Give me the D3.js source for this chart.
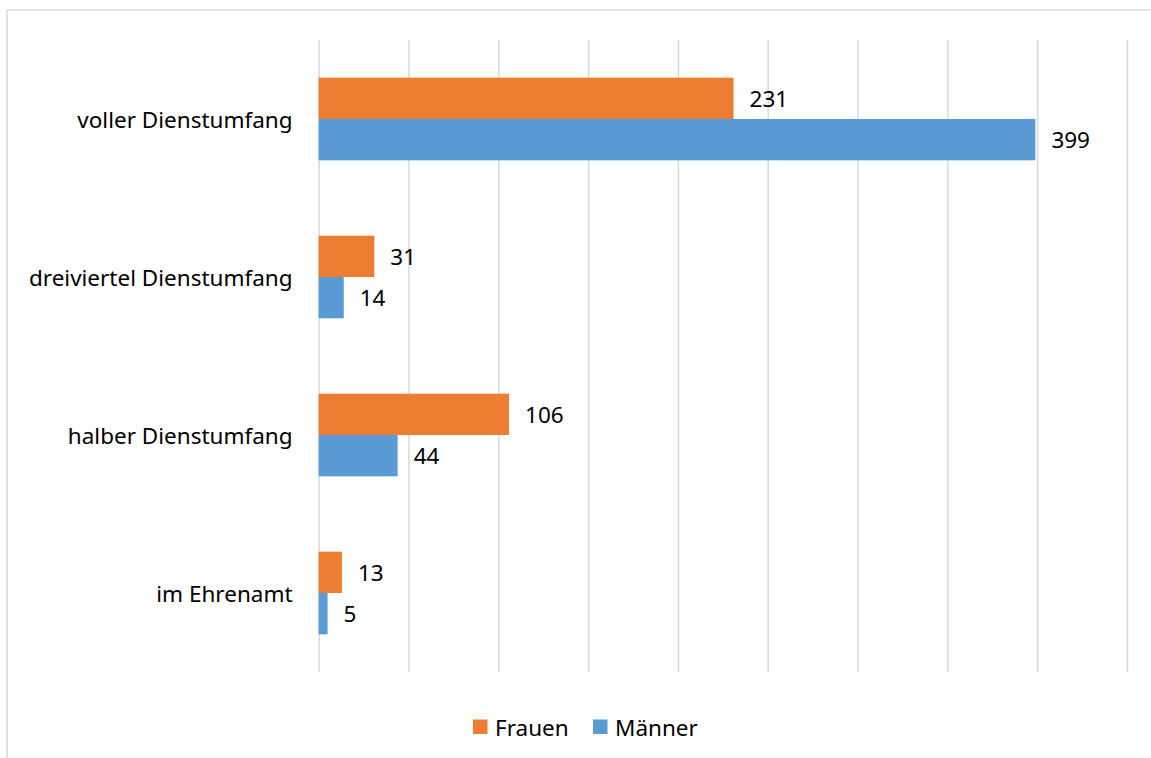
<!DOCTYPE html>
<html>
<head>
<meta charset="utf-8">
<script src="https://cdn.jsdelivr.net/npm/d3@7"></script>
<style>
  body { margin: 0; background: #fff; }
  svg { display: block; font-family: "Noto Sans", sans-serif; }
</style>
</head>
<body>
<svg id="chart" width="1151" height="758"></svg>
<script>
const categories = ['voller Dienstumfang', 'dreiviertel Dienstumfang', 'halber Dienstumfang', 'im Ehrenamt'];
const seriesNames = ['Frauen', 'Männer'];
const frauen = [231, 31, 106, 13];
const maenner = [399, 14, 44, 5];
const xTicks = [0, 50, 100, 150, 200, 250, 300, 350, 400, 450];

const colors = { 'Frauen': '#ED7D31', 'Männer': '#5B9BD5' };
const fontSize = 22.5;

const svg = d3.select('#chart');
const margin = { left: 318.6, right: 1127, top: 40, bottom: 672 };

// chart frame (right/bottom edges run off the picture)
svg.append('rect')
    .attr('x', 7).attr('y', 10)
    .attr('width', 1200).attr('height', 800)
    .attr('fill', '#fff')
    .attr('stroke', '#d9d9d9')
    .attr('stroke-width', 1.5);

const x = d3.scaleLinear()
    .domain([0, 450])
    .range([margin.left, margin.right]);

const y = d3.scaleBand()
    .domain(categories)
    .range([margin.top, margin.bottom])
    .paddingInner(0.477)
    .paddingOuter(0.2385);

const ySub = d3.scaleBand()
    .domain(seriesNames)
    .range([0, y.bandwidth()]);

// gridlines
const grid = svg.append('g')
    .attr('transform', `translate(0,${margin.bottom})`)
    .call(d3.axisBottom(x).tickValues(xTicks).tickSize(-(margin.bottom - margin.top)).tickFormat(''));
grid.select('.domain').remove();
grid.selectAll('.tick line')
    .attr('stroke', '#d9d9d9')
    .attr('stroke-width', 1.5);

// category labels
svg.append('g')
    .selectAll('text')
    .data(categories)
    .join('text')
        .attr('x', margin.left - 26)
        .attr('y', d => y(d) + y.bandwidth() / 2)
        .attr('text-anchor', 'end')
        .attr('dominant-baseline', 'central')
        .attr('font-size', fontSize)
        .attr('fill', '#000')
        .text(d => d);

const rows = categories.map((c, i) => ({
    category: c,
    values: [
        { series: 'Frauen', value: frauen[i] },
        { series: 'Männer', value: maenner[i] }
    ]
}));

const group = svg.append('g')
    .selectAll('g')
    .data(rows)
    .join('g')
        .attr('transform', d => `translate(0,${y(d.category)})`);

group.selectAll('rect')
    .data(d => d.values)
    .join('rect')
        .attr('x', x(0))
        .attr('y', d => ySub(d.series))
        .attr('width', d => x(d.value) - x(0))
        .attr('height', ySub.bandwidth())
        .attr('fill', d => colors[d.series]);

group.selectAll('text')
    .data(d => d.values)
    .join('text')
        .attr('x', d => x(d.value) + 16)
        .attr('y', d => ySub(d.series) + ySub.bandwidth() / 2)
        .attr('dominant-baseline', 'central')
        .attr('font-size', fontSize)
        .attr('fill', '#000')
        .text(d => d.value);

// legend
const legendPos = [473, 593];
const legend = svg.append('g')
    .selectAll('g')
    .data(seriesNames)
    .join('g')
        .attr('transform', (d, i) => `translate(${legendPos[i]},727)`);

legend.append('rect')
    .attr('x', 0).attr('y', -7.5)
    .attr('width', 14.5).attr('height', 14.5)
    .attr('fill', d => colors[d]);

legend.append('text')
    .attr('x', 22)
    .attr('y', 0)
    .attr('dominant-baseline', 'central')
    .attr('font-size', fontSize)
    .attr('fill', '#000')
    .text(d => d);
</script>
</body>
</html>
